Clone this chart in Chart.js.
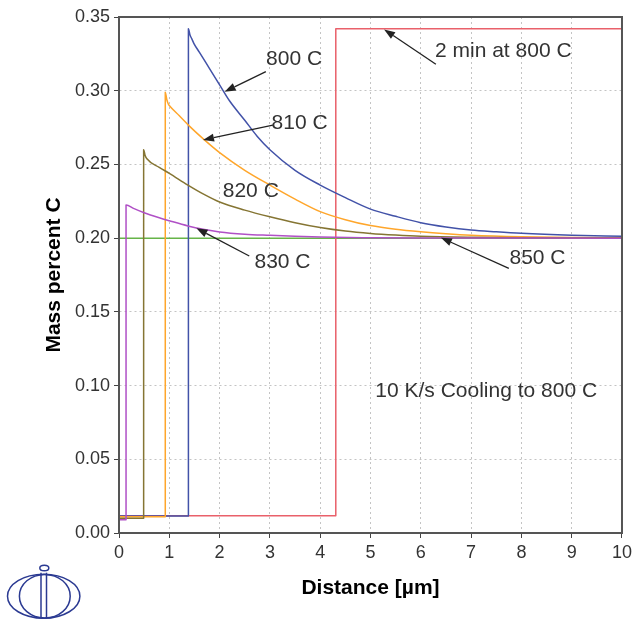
<!DOCTYPE html>
<html lang="en">
<head>
    <meta charset="UTF-8">
    <title>Mass percent C</title>
    <script src="https://cdn.jsdelivr.net/npm/chart.js"></script>
    <style>
        body { margin: 0; background: #fff; }
        .wrap { position: relative; width: 636px; height: 620px; }
        #logo { position: absolute; left: 0; top: 560px; }
    </style>
</head>
<body>

<div class="wrap">
    <canvas id="carbonChart" width="636" height="620"></canvas>
    <!-- logo bottom left -->
    <svg id="logo" width="90" height="60" viewBox="0 0 90 60">
        <g fill="none" stroke="#2b3a92" stroke-width="1.5">
            <ellipse cx="43.7" cy="36.2" rx="36.2" ry="22"/>
            <ellipse cx="44.8" cy="36.2" rx="25.4" ry="21.8"/>
            <line x1="41" y1="12.7" x2="41" y2="58.3"/>
            <line x1="46.5" y1="12.7" x2="46.5" y2="58.3"/>
            <ellipse cx="44.3" cy="8" rx="4.5" ry="2.8"/>
        </g>
    </svg>
</div>

<script>
    // x ticks / y ticks
    const xTicks = [0, 1, 2, 3, 4, 5, 6, 7, 8, 9, 10];
    const yTicks = [0.00, 0.05, 0.10, 0.15, 0.20, 0.25, 0.30, 0.35];

    // 800 C
    const dist800 = [0, 1.38, 1.38, 1.41, 1.45, 1.49, 1.6, 1.8, 2.0, 2.2, 2.5, 2.75, 3.0, 3.5, 4.0, 4.5, 5.0, 5.5, 6.0, 6.5, 7.0, 7.5, 8.0, 9.0, 10.0];
    const carb800 = [0.0115, 0.0115, 0.342, 0.338, 0.335, 0.332, 0.326, 0.315, 0.304, 0.293, 0.280, 0.269, 0.260, 0.246, 0.236, 0.2275, 0.2197, 0.2148, 0.2105, 0.2076, 0.2055, 0.2043, 0.2033, 0.202, 0.2012];
    // 810 C
    const dist810 = [0, 0.92, 0.92, 0.95, 0.98, 1.0, 1.2, 1.4, 1.67, 2.0, 2.5, 3.0, 3.5, 4.0, 4.5, 5.0, 5.5, 6.0, 6.5, 7.0, 8.0, 9.0, 10.0];
    const carb810 = [0.011, 0.011, 0.299, 0.294, 0.291, 0.290, 0.283, 0.276, 0.2675, 0.258, 0.246, 0.236, 0.2265, 0.218, 0.2125, 0.2085, 0.206, 0.2043, 0.203, 0.202, 0.2009, 0.2004, 0.2002];
    // 820 C
    const dist820 = [0, 0.49, 0.49, 0.52, 0.55, 0.8, 1.0, 1.37, 1.7, 2.0, 2.5, 3.0, 3.5, 4.0, 4.5, 5.0, 5.5, 6.0, 7.0, 8.0, 10.0];
    const carb820 = [0.010, 0.010, 0.260, 0.256, 0.254, 0.248, 0.244, 0.236, 0.2295, 0.2245, 0.219, 0.2145, 0.2105, 0.2072, 0.2048, 0.2032, 0.2021, 0.2013, 0.2006, 0.2003, 0.2001];
    // 830 C
    const dist830 = [0, 0.14, 0.14, 0.3, 0.5, 0.8, 1.0, 1.37, 1.7, 2.0, 2.5, 3.0, 3.5, 4.0, 5.0, 6.0, 10.0];
    const carb830 = [0.009, 0.009, 0.2225, 0.2200, 0.2172, 0.2138, 0.2118, 0.2083, 0.2058, 0.2042, 0.2027, 0.2019, 0.2012, 0.2007, 0.2003, 0.2001, 0.2];
    // 850 C
    const dist850 = [0, 10];
    const carb850 = [0.2, 0.2];
    // 2 min at 800 C
    const distHold = [0, 4.31, 4.31, 10];
    const carbHold = [0.0117, 0.0117, 0.342, 0.342];

    // annotations (data coordinates)
    const noteText = ['800 C', '810 C', '820 C', '830 C', '850 C', '2 min at 800 C', '10 K/s Cooling to 800 C'];
    const noteX = [3.48, 3.59, 2.62, 3.25, 8.32, 7.64, 7.30];
    const noteY = [0.3215, 0.2780, 0.2315, 0.1838, 0.1865, 0.3265, 0.0963];
    // arrows: tail -> tip
    const arrowFromX = [2.92, 3.06, 2.59, 7.75, 6.30];
    const arrowFromY = [0.3129, 0.2767, 0.1879, 0.1795, 0.3179];
    const arrowToX = [2.10, 1.67, 1.54, 6.40, 5.27];
    const arrowToY = [0.2993, 0.2666, 0.2067, 0.2003, 0.3416];

    const FONT = '"Liberation Sans", Arial, sans-serif';

    function pts(xs, ys) {
        return xs.map((v, i) => ({ x: v, y: ys[i] }));
    }

    function line(data, color) {
        return {
            data: data,
            borderColor: color,
            borderWidth: 1.5,
            borderJoinStyle: 'round',
            pointRadius: 0,
            cubicInterpolationMode: 'monotone',
            fill: false
        };
    }

    // arrows, notes and the plot frame
    const notesPlugin = {
        id: 'notes',
        afterDatasetsDraw(chart) {
            const { ctx, chartArea: a, scales: { x, y } } = chart;
            ctx.save();

            ctx.strokeStyle = '#555';
            ctx.lineWidth = 2;
            ctx.strokeRect(a.left, a.top, a.right - a.left, a.bottom - a.top);

            ctx.strokeStyle = '#222';
            ctx.fillStyle = '#222';
            ctx.lineWidth = 1.3;
            for (let i = 0; i < arrowFromX.length; i++) {
                const x1 = x.getPixelForValue(arrowFromX[i]), y1 = y.getPixelForValue(arrowFromY[i]);
                const x2 = x.getPixelForValue(arrowToX[i]), y2 = y.getPixelForValue(arrowToY[i]);
                const ang = Math.atan2(y2 - y1, x2 - x1);
                const hl = 11, hw = 4;
                const bx = x2 - hl * Math.cos(ang), by = y2 - hl * Math.sin(ang);
                ctx.beginPath();
                ctx.moveTo(x1, y1);
                ctx.lineTo(bx, by);
                ctx.stroke();
                ctx.beginPath();
                ctx.moveTo(x2, y2);
                ctx.lineTo(bx + hw * Math.sin(ang), by - hw * Math.cos(ang));
                ctx.lineTo(bx - hw * Math.sin(ang), by + hw * Math.cos(ang));
                ctx.closePath();
                ctx.fill();
            }

            ctx.font = '21px ' + FONT;
            ctx.fillStyle = '#333';
            ctx.textAlign = 'center';
            ctx.textBaseline = 'middle';
            noteText.forEach((t, i) => {
                ctx.fillText(t, x.getPixelForValue(noteX[i]), y.getPixelForValue(noteY[i]));
            });
            ctx.restore();
        }
    };

    new Chart(document.getElementById('carbonChart'), {
        type: 'line',
        data: {
            datasets: [
                line(pts(dist830, carb830), '#b050c6'),
                line(pts(dist820, carb820), '#857533'),
                line(pts(dist810, carb810), '#ffa62b'),
                line(pts(dist800, carb800), '#4252a8'),
                line(pts(distHold, carbHold), '#e9606a'),
                line(pts(dist850, carb850), '#66b448')
            ]
        },
        options: {
            responsive: false,
            animation: false,
            layout: { padding: { top: 17, right: 12, left: 0, bottom: 0 } },
            plugins: {
                legend: { display: false },
                tooltip: { enabled: false }
            },
            scales: {
                x: {
                    type: 'linear',
                    min: xTicks[0],
                    max: xTicks[xTicks.length - 1],
                    afterBuildTicks: s => { s.ticks = xTicks.map(v => ({ value: v })); },
                    afterFit: s => { s.height = 87; },
                    ticks: { font: { size: 18, family: FONT }, color: '#333', padding: 4, maxRotation: 0 },
                    grid: { color: '#c4c4c4', tickColor: '#444', tickLength: 5, tickWidth: 1 },
                    border: { color: '#444', width: 1.5, dash: [2, 3] },
                    title: {
                        display: true,
                        text: 'Distance [µm]',
                        color: '#000',
                        font: { size: 21, weight: 'bold', family: FONT },
                        padding: { top: 0, bottom: 19 }
                    }
                },
                y: {
                    min: yTicks[0],
                    max: yTicks[yTicks.length - 1],
                    afterBuildTicks: s => { s.ticks = yTicks.map(v => ({ value: v })); },
                    afterFit: s => { s.width = 119; },
                    ticks: {
                        font: { size: 18, family: FONT },
                        color: '#333',
                        padding: 4,
                        callback: v => v.toFixed(2)
                    },
                    grid: { color: '#c4c4c4', tickColor: '#444', tickLength: 5, tickWidth: 1 },
                    border: { color: '#444', width: 1.5, dash: [2, 3] },
                    title: {
                        display: true,
                        text: 'Mass percent C',
                        color: '#000',
                        font: { size: 21, weight: 'bold', family: FONT },
                        padding: { top: 42, bottom: 0 }
                    }
                }
            }
        },
        plugins: [notesPlugin]
    });
</script>

</body>
</html>
